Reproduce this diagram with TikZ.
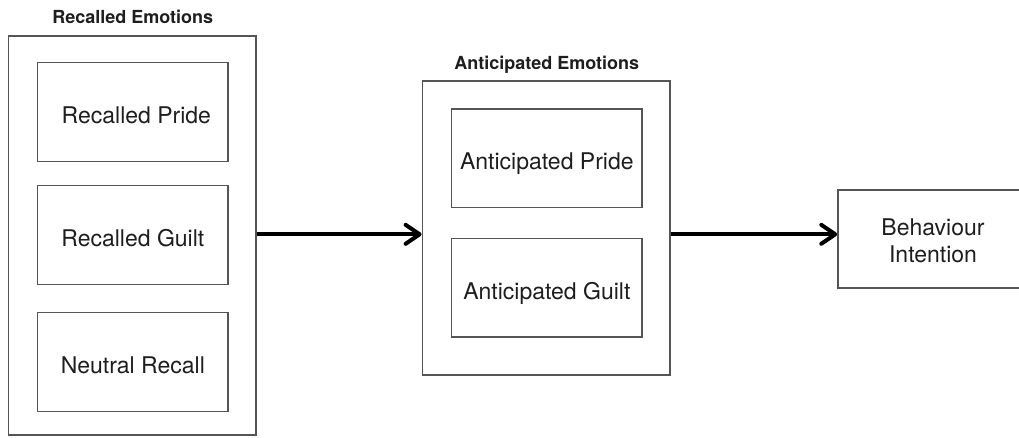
\documentclass[tikz,border=0pt]{standalone}
\usepackage{fontspec}
\setmainfont{TeX Gyre Heros}
\usetikzlibrary{arrows.meta}
\definecolor{boxline}{HTML}{555555}
\definecolor{ink}{HTML}{1E1E1E}
\tikzset{
  group/.style={draw=boxline, line width=1.5pt, minimum width=247.7pt, inner sep=0pt},
  item/.style={draw=boxline, line width=1.5pt, minimum width=190.3pt, minimum height=98.8pt,
    inner sep=0pt, align=center, text=ink, font=\fontsize{23}{27}\selectfont,
    text height=23pt, text depth=0pt},
  grouptitle/.style={inner sep=0pt, text=ink, font=\bfseries\fontsize{18}{20}\selectfont},
  flow/.style={line width=4pt, draw=black,
    -{Straight Barb[length=14pt,width=19pt,line cap=round,line join=round]}}
}
\begin{document}
\begin{tikzpicture}[x=1pt,y=-1pt]
\useasboundingbox (0,0) rectangle (1019,437);
% recalled emotions group
\node[group, minimum height=399pt] (rec) at (132.2,235.5) {};
\node[grouptitle] (rectitle) at (132.7,16.7) {Recalled Emotions};
\node[item] (rpride) at (132.85,112) {\hspace*{7pt}Recalled Pride};
\node[item] (rguilt) at (132.85,235) {Recalled Guilt};
\node[item] (rneutral) at (132.85,362) {Neutral Recall};
% anticipated emotions group
\node[group, minimum height=294pt] (ant) at (546.2,228) {};
\node[grouptitle] (anttitle) at (546.7,65) {Anticipated Emotions};
\node[item] (apride) at (546.85,158.2) {Anticipated Pride};
\node[item] (aguilt) at (546.85,287.7) {Anticipated Guilt};
% outcome
\node[item, minimum width=190pt, minimum height=97.7pt, text height=47.6pt]
  (beh) at (933,238.9) {Behaviour\\Intention};
% flows
\draw[flow] (rec.east |- 0,234.3) -- (ant.west |- 0,234.3);
\draw[flow] (ant.east |- 0,234.3) -- (beh.west |- 0,234.3);
\end{tikzpicture}
\end{document}
